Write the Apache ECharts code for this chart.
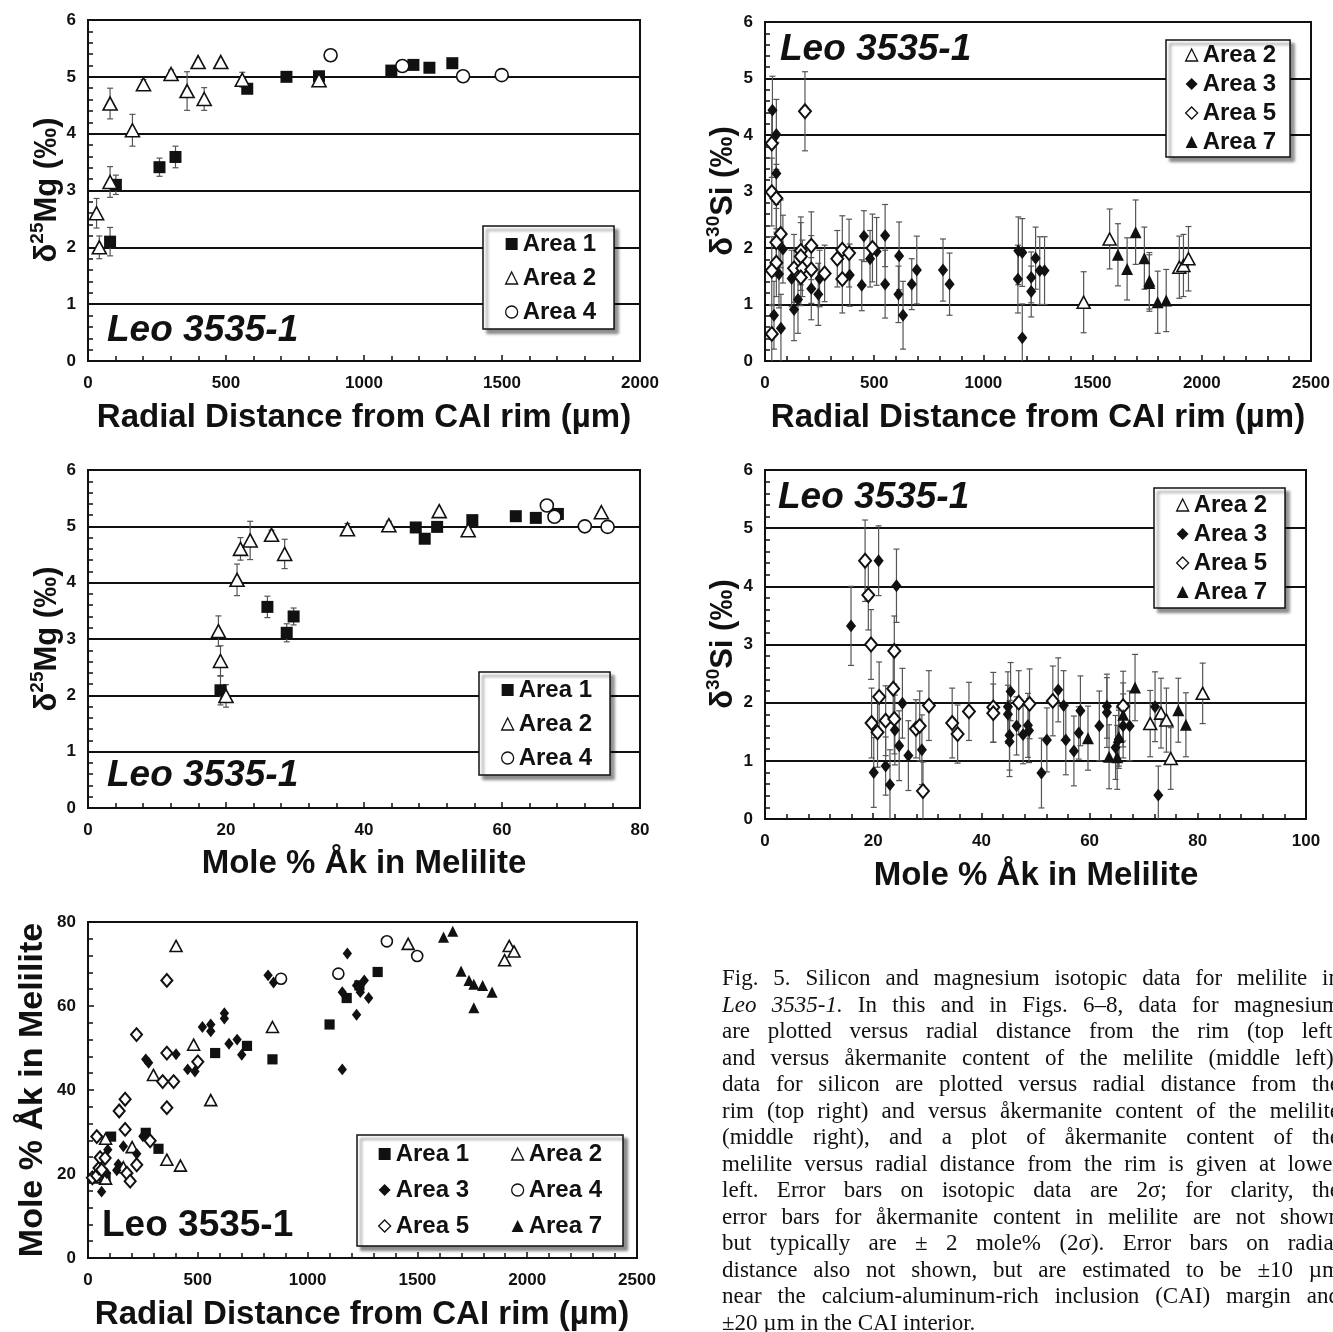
<!DOCTYPE html>
<html><head><meta charset="utf-8">
<script src="https://cdn.jsdelivr.net/npm/echarts@6/dist/echarts.min.js"></script>
<style>html,body{margin:0;padding:0;background:#fff}#c{width:1333px;height:1332px}</style>
</head><body><div id="c"></div><script>
// ---------------- DATA ----------------
// Panel 1: δ25Mg (‰) vs radial distance (µm)  [x, y, 2σ]
const P1_AREA1 = [[80,2.10,0.25],[101,3.10,0.17],[259,3.41,0.16],[317,3.59,0.19],[577,4.79,0],[719,5.00,0],[837,5.01,0],[1099,5.11,0],[1179,5.21,0],[1237,5.16,0],[1320,5.24,0]];
const P1_AREA2 = [[31,2.60,0.26],[41,2.00,0.20],[80,3.15,0.27],[80,4.53,0.27],[161,4.06,0.28],[201,4.87,0.08],[301,5.05,0.07],[359,4.75,0.34],[399,5.26,0],[421,4.61,0.20],[481,5.26,0],[559,4.95,0.13],[837,4.94,0]];
const P1_AREA4 = [[879,5.38,0],[1139,5.19,0],[1359,5.01,0],[1499,5.03,0]];

// Panel 2: δ30Si (‰) vs radial distance (µm)  [x, y, 2σ]
const P2_AREA2 = [[1459,1.04,0.54],[1578,2.16,0.53],[1897,1.66,0.55],[1916,1.69,0.55],[1939,1.81,0.57]];
const P2_AREA3 = [[34,4.44,0.60],[52,4.01,0.62],[52,3.32,0.55],[82,1.98,0.60],[64,1.54,0.60],[122,1.46,0.50],[151,1.09,0.60],[133,0.91,0.55],[41,0.81,0.60],[73,0.58,0.60],[212,1.28,0.55],[244,1.18,0.55],[250,1.46,0.50],[388,1.52,0.55],[443,1.34,0.45],[453,2.21,0.45],[481,1.81,0.50],[511,1.94,0.60],[550,2.22,0.55],[550,1.36,0.60],[614,1.86,0.60],[611,1.18,0.50],[632,0.81,0.60],[672,1.36,0.45],[695,1.61,0.60],[815,1.61,0.55],[845,1.36,0.55],[1160,1.95,0.60],[1178,1.92,0.60],[1158,1.45,0.60],[1219,1.48,0.45],[1219,1.23,0.45],[1239,1.82,0.55],[1258,1.60,0.60],[1280,1.60,0.60],[1178,0.41,0.60]];
const P2_AREA5 = [[183,4.42,0.70],[31,3.85,0.60],[31,2.99,0.60],[52,2.88,0.60],[72,2.25,0.60],[52,2.10,0.60],[52,1.74,0.60],[31,1.60,0.60],[31,0.48,0.50],[133,1.64,0.60],[164,1.95,0.60],[164,1.85,0.60],[171,1.64,0.50],[164,1.48,0.50],[212,2.04,0.60],[212,1.62,0.60],[273,1.55,0.50],[331,1.81,0.50],[354,1.97,0.60],[354,1.45,0.60],[385,1.91,0.60],[492,2.00,0.60]];
const P2_AREA7 = [[1616,1.88,0.55],[1658,1.63,0.55],[1697,2.28,0.57],[1737,1.82,0.55],[1760,1.42,0.50],[1760,1.38,0.50],[1798,1.04,0.55],[1837,1.07,0.55]];

// Panel 3: δ25Mg (‰) vs mole % Åk  [x, y, 2σ]
const P3_AREA1 = [[19.2,2.09,0.26],[26.0,3.57,0.19],[28.8,3.11,0.16],[29.8,3.40,0.15],[47.5,4.98,0],[48.8,4.78,0],[50.6,4.99,0],[55.7,5.11,0.05],[62.0,5.18,0.05],[64.9,5.15,0.05],[68.1,5.22,0]];
const P3_AREA2 = [[18.9,3.14,0.27],[19.2,2.61,0.27],[20.0,1.99,0.20],[21.6,4.05,0.28],[22.1,4.60,0.20],[23.5,4.75,0.34],[26.6,4.85,0.08],[28.5,4.51,0.26],[37.6,4.95,0.10],[43.6,5.02,0.07],[50.9,5.27,0],[55.1,4.93,0],[74.4,5.25,0]];
const P3_AREA4 = [[66.5,5.37,0],[67.6,5.17,0],[72.0,5.00,0],[75.3,4.99,0]];

// Panel 4: δ30Si (‰) vs mole % Åk  [x, y, 2σ]
const P4_AREA2 = [[71.2,1.64,0.57],[73.2,1.82,0.60],[74.2,1.70,0.55],[75.0,1.04,0.53],[80.9,2.16,0.52]];
const P4_AREA3 = [[15.9,3.32,0.68],[21.0,4.44,0.60],[24.3,4.01,0.63],[20.1,0.80,0.60],[22.3,0.91,0.50],[23.1,0.59,0.60],[24.0,1.53,0.60],[24.8,1.26,0.60],[25.4,1.99,0.60],[26.5,1.09,0.60],[29.0,1.19,0.60],[45.4,2.19,0.50],[44.9,1.93,0.60],[44.9,1.80,0.50],[45.2,1.44,0.60],[45.2,1.33,0.60],[46.5,1.60,0.50],[47.7,1.45,0.50],[48.6,1.61,0.55],[48.8,1.52,0.55],[51.1,0.79,0.60],[52.1,1.36,0.55],[54.2,2.22,0.55],[55.2,1.95,0.60],[55.6,1.36,0.60],[57.1,1.17,0.60],[58.0,1.48,0.45],[58.3,1.86,0.60],[61.8,1.60,0.60],[63.2,1.94,0.55],[63.2,1.83,0.60],[64.8,1.23,0.55],[65.4,1.37,0.50],[66.2,1.60,0.55],[67.4,1.60,0.60],[72.1,1.93,0.60],[72.7,0.41,0.50]];
const P4_AREA5 = [[18.5,4.44,0.70],[19.1,3.85,0.60],[19.6,3.00,0.60],[23.9,2.89,0.60],[23.7,2.24,0.60],[21.1,2.10,0.60],[19.7,1.65,0.60],[20.8,1.49,0.60],[22.3,1.69,0.60],[23.9,1.72,0.60],[27.9,1.55,0.50],[28.6,1.60,0.60],[29.2,0.48,0.50],[30.3,1.95,0.60],[34.6,1.65,0.60],[35.6,1.46,0.50],[37.7,1.85,0.50],[42.2,1.92,0.60],[42.2,1.82,0.50],[46.9,2.00,0.55],[48.9,1.98,0.60],[53.2,2.03,0.60],[66.2,1.94,0.60]];
const P4_AREA7 = [[59.7,1.39,0.55],[63.6,1.07,0.55],[65.1,1.06,0.55],[66.2,1.79,0.55],[65.4,1.41,0.50],[68.4,2.26,0.57],[76.4,1.87,0.55],[77.8,1.62,0.55]];

// Panel 5: mole % Åk vs radial distance (µm)  [x, y]
const P5_AREA1 = [[80,19.2],[105,28.9],[263,29.8],[321,26.0],[579,48.8],[724,50.5],[840,47.3],[1100,55.6],[1178,61.9],[1236,64.9],[1319,68.1]];
const P5_AREA2 = [[31,19.2],[41,20.0],[80,18.9],[80,28.4],[161,21.6],[201,26.4],[298,43.6],[359,23.4],[401,74.3],[421,22.0],[481,50.8],[559,37.6],[840,55.0],[1458,74.8],[1897,70.9],[1918,74.3],[1940,73.0]];
const P5_AREA3 = [[62,15.8],[85,20.2],[90,25.8],[131,20.9],[138,22.3],[161,26.6],[222,24.8],[250,29.0],[263,47.3],[276,46.5],[401,48.5],[454,44.9],[487,44.4],[521,55.0],[559,55.6],[559,54.0],[621,58.3],[621,57.0],[642,51.0],[679,52.0],[700,48.4],[820,67.3],[845,65.6],[1158,44.9],[1158,63.3],[1181,72.5],[1223,57.9],[1223,64.9],[1240,63.3],[1258,66.1],[1278,61.9]];
const P5_AREA4 = [[879,66.5],[1140,67.7],[1361,75.4],[1499,71.9]];
const P5_AREA5 = [[20,19.1],[40,28.9],[40,19.6],[50,21.4],[55,23.9],[62,21.0],[78,23.8],[142,35.0],[169,37.8],[169,30.6],[177,20.2],[192,18.3],[221,53.2],[222,22.2],[283,27.9],[340,42.0],[359,66.1],[359,48.8],[359,35.8],[390,42.0],[500,46.7]];
const P5_AREA7 = [[1619,76.4],[1661,77.8],[1699,68.3],[1735,66.1],[1757,65.2],[1797,64.9],[1840,63.3],[1757,59.6]];

// Axis ranges [min, max, labelled step]
const X_DIST_MG = [0, 2000, 500];
const X_DIST_SI = [0, 2500, 500];
const X_AK_MG = [0, 80, 20];
const X_AK_SI = [0, 100, 20];
const Y_DELTA = [0, 6, 1];
const X_DIST_AK = [0, 2500, 500];
const Y_AK = [0, 80, 20];

// Texts
const TITLE_DIST = 'Radial Distance from CAI rim (µm)';
const TITLE_AK = 'Mole % Åk in Melilite';
const SAMPLE = 'Leo 3535-1';
const CAPTION = [
 'Fig. 5. Silicon and magnesium isotopic data for melilite in',
 '_Leo _3535-1. In this and in Figs. 6–8, data for magnesium',
 'are plotted versus radial distance from the rim (top left)',
 'and versus åkermanite content of the melilite (middle left);',
 'data for silicon are plotted versus radial distance from the',
 'rim (top right) and versus åkermanite content of the melilite',
 '(middle right), and a plot of åkermanite content of the',
 'melilite versus radial distance from the rim is given at lower',
 'left. Error bars on isotopic data are 2σ; for clarity, the',
 'error bars for åkermanite content in melilite are not shown',
 'but typically are ± 2 mole% (2σ). Error bars on radial',
 'distance also not shown, but are estimated to be ±10 µm',
 'near the calcium-aluminum-rich inclusion (CAI) margin and',
 '±20 µm in the CAI interior.'
];

// ---------------- STYLE ----------------
const FONT = '"Liberation Sans", Arial, sans-serif';
const INK = '#111';
const MK = {
  'Area 1': {symbol:'rect', size:12, style:{color:INK}},
  'Area 2': {symbol:'triangle', size:[14,13], style:{color:'#fff', borderColor:INK, borderWidth:1.6}},
  'Area 3': {symbol:'diamond', size:[11,14], style:{color:INK}},
  'Area 4': {symbol:'circle', size:13, style:{color:'#fff', borderColor:INK, borderWidth:1.6}},
  'Area 5': {symbol:'diamond', size:[13,15], style:{color:'#fff', borderColor:INK, borderWidth:2}},
  'Area 7': {symbol:'triangle', size:[13,13], style:{color:INK}}
};

function scaleSize(s, k){ return Array.isArray(s) ? s.map(v=>v*k) : s*k; }
const plainNum = v => String(v);

function xAxis(gi, r){
  return {type:'value', gridIndex:gi, min:r[0], max:r[1], interval:r[2],
    axisLine:{show:true, onZero:false, lineStyle:{color:INK, width:2}},
    axisTick:{show:true, inside:true, length:6, lineStyle:{color:INK, width:1.5}},
    minorTick:{show:true, splitNumber:5, length:5, lineStyle:{color:INK, width:1.5}},
    axisLabel:{show:true, margin:14, formatter:plainNum, color:INK, fontFamily:FONT, fontWeight:'bold', fontSize:17, showMinLabel:true, showMaxLabel:true, hideOverlap:false},
    splitLine:{show:false}, minorSplitLine:{show:false}};
}
function yAxis(gi, r, grid){
  return {type:'value', gridIndex:gi, min:r[0], max:r[1], interval:r[2],
    axisLine:{show:true, onZero:false, lineStyle:{color:INK, width:2}},
    axisTick:{show:true, inside:true, length:6, lineStyle:{color:INK, width:1.5}},
    minorTick:{show:true, splitNumber:5, length:5, lineStyle:{color:INK, width:1.5}},
    axisLabel:{show:true, margin:12, formatter:plainNum, color:INK, fontFamily:FONT, fontWeight:'bold', fontSize:17, showMinLabel:true, showMaxLabel:true, hideOverlap:false},
    splitLine:{show:grid, lineStyle:{color:INK, width:1.8}}, minorSplitLine:{show:false}};
}
function grid(left, top, width, height){
  return {left, top, width, height, show:true, borderColor:INK, borderWidth:2, backgroundColor:'transparent', containLabel:false, outerBoundsMode:'none'};
}

function errSeries(gi, data){
  return {type:'custom', name:'err'+gi, xAxisIndex:gi, yAxisIndex:gi, data, z:1, silent:true, clip:true,
    encode:{x:0, y:1},
    renderItem(params, api){
      const x = api.value(0), y = api.value(1), e = api.value(2);
      if (!(e > 0)) return null;
      const hi = api.coord([x, y+e]), lo = api.coord([x, y-e]);
      const s = {stroke:'#555', lineWidth:1.2};
      const c = 3;
      return {type:'group', children:[
        {type:'line', shape:{x1:hi[0], y1:hi[1], x2:lo[0], y2:lo[1]}, style:s},
        {type:'line', shape:{x1:hi[0]-c, y1:hi[1], x2:hi[0]+c, y2:hi[1]}, style:s},
        {type:'line', shape:{x1:lo[0]-c, y1:lo[1], x2:lo[0]+c, y2:lo[1]}, style:s}
      ]};
    }};
}
function ptSeries(gi, name, data, k){
  const m = MK[name];
  return {type:'scatter', name, xAxisIndex:gi, yAxisIndex:gi, data: data.map(d=>[d[0], d[1]]), z:3,
    symbol:m.symbol, symbolSize:scaleSize(m.size, k), itemStyle:Object.assign({opacity:1}, m.style),
    emphasis:{disabled:true}, silent:true};
}

const PANELS = [
  {gi:0, k:1, sets:[['Area 1',P1_AREA1],['Area 2',P1_AREA2],['Area 4',P1_AREA4]], err:true},
  {gi:1, k:0.92, sets:[['Area 2',P2_AREA2],['Area 3',P2_AREA3],['Area 5',P2_AREA5],['Area 7',P2_AREA7]], err:true},
  {gi:2, k:1, sets:[['Area 1',P3_AREA1],['Area 2',P3_AREA2],['Area 4',P3_AREA4]], err:true},
  {gi:3, k:0.92, sets:[['Area 2',P4_AREA2],['Area 3',P4_AREA3],['Area 5',P4_AREA5],['Area 7',P4_AREA7]], err:true},
  {gi:4, k:0.85, sets:[['Area 1',P5_AREA1],['Area 2',P5_AREA2],['Area 3',P5_AREA3],['Area 4',P5_AREA4],['Area 5',P5_AREA5],['Area 7',P5_AREA7]], err:false}
];

const series = [];
PANELS.forEach(p => {
  if (p.err) p.sets.forEach(s => series.push(errSeries(p.gi, s[1])));
  p.sets.forEach(s => series.push(ptSeries(p.gi, s[0], s[1], p.k)));
});

function legend(left, top, names, padding, gap, boxed){
  const o = {show:true, orient:'vertical', left, top, padding, itemGap:gap, itemWidth:12, itemHeight:12, selectedMode:false,
    textStyle:{color:INK, fontFamily:FONT, fontWeight:'bold', fontSize:24, lineHeight:24},
    data: names.map(n => ({name:n, icon:MK[n].symbol, itemStyle:Object.assign({}, MK[n].style, {borderWidth:MK[n].style.borderWidth?1.3:0})}))};
  if (boxed) Object.assign(o, {backgroundColor:'#fff', borderColor:INK, borderWidth:1.5, borderRadius:0,
    shadowColor:'rgba(0,0,0,0.45)', shadowBlur:3, shadowOffsetX:4, shadowOffsetY:4});
  else Object.assign(o, {backgroundColor:'transparent', borderWidth:0});
  return o;
}

// ---------------- GRAPHIC TEXT ----------------
const graphics = [];
function txt(x, y, text, font, align, rot){
  graphics.push({type:'text', x, y, rotation:rot||0, z:5, silent:true,
    style:{text, font, fill:INK, textAlign:align||'center', textVerticalAlign:'middle'}});
}
function deltaTitle(x, y, mass, el){
  graphics.push({type:'text', x, y, rotation:Math.PI/2, z:5, silent:true,
    style:{text:'{a|δ}{b|'+mass+'}{a|'+el+' (‰)}', fill:INK, textAlign:'center', textVerticalAlign:'middle',
      rich:{a:{fontFamily:FONT, fontWeight:'bold', fontSize:31, fill:INK},
            b:{fontFamily:FONT, fontWeight:'bold', fontSize:19, fill:INK, padding:[0,0,18,0]}}}});
}
const TB = 'bold 33px ' + FONT;
txt(364, 418, TITLE_DIST, TB);
txt(1038, 418, TITLE_DIST, TB);
txt(364, 864, TITLE_AK, TB);
txt(1036, 876, TITLE_AK, TB);
txt(362, 1315, TITLE_DIST, TB);
txt(33, 1090, TITLE_AK, 'bold 34px ' + FONT, 'center', Math.PI/2);
deltaTitle(47, 190, '25', 'Mg');
deltaTitle(723, 191, '30', 'Si');
deltaTitle(47, 639, '25', 'Mg');
deltaTitle(723, 644, '30', 'Si');
const LI = 'italic bold 37px ' + FONT;
txt(107, 331, SAMPLE, LI, 'left');
txt(780, 50, SAMPLE, LI, 'left');
txt(107, 776, SAMPLE, LI, 'left');
txt(778, 498, SAMPLE, LI, 'left');
txt(102, 1226, SAMPLE, 'bold 37px ' + FONT, 'left');

// legend box for bottom panel
graphics.push({type:'rect', z:3, silent:true, shape:{x:357, y:1135, width:266, height:111},
  style:{fill:'#fff', stroke:INK, lineWidth:1.5, shadowColor:'rgba(0,0,0,0.45)', shadowBlur:3, shadowOffsetX:4, shadowOffsetY:4}});

// caption, justified word by word
const CAP_X = 722, CAP_W = 618, CAP_Y0 = 979, CAP_DY = 26.5, CAP_FS = 23;
const mctx = document.createElement('canvas').getContext('2d');
function capFont(it){ return (it ? 'italic ' : '') + CAP_FS + 'px "Liberation Serif", "Times New Roman", serif'; }
CAPTION.forEach((line, i) => {
  const words = line.split(' ').map(w => ({it: w.startsWith('_'), t: w.replace(/_/g, '')}));
  words.forEach(w => { mctx.font = capFont(w.it); w.w = mctx.measureText(w.t).width; });
  const total = words.reduce((s, w) => s + w.w, 0);
  mctx.font = capFont(false);
  const last = i === CAPTION.length - 1;
  const gap = last ? mctx.measureText(' ').width : (CAP_W - total) / (words.length - 1);
  let x = CAP_X;
  words.forEach(w => {
    graphics.push({type:'text', x, y: CAP_Y0 + i*CAP_DY, z:5, silent:true,
      style:{text:w.t, font:capFont(w.it), fill:INK, textAlign:'left', textVerticalAlign:'middle'}});
    x += w.w + gap;
  });
});

const option = {
  animation:false,
  backgroundColor:'#fff',
  grid:[grid(88,20,552,341), grid(765,22,546,339), grid(88,470,552,338), grid(765,470,541,349), grid(88,922,549,336)],
  xAxis:[xAxis(0,X_DIST_MG), xAxis(1,X_DIST_SI), xAxis(2,X_AK_MG), xAxis(3,X_AK_SI), xAxis(4,X_DIST_AK)],
  yAxis:[yAxis(0,Y_DELTA,true), yAxis(1,Y_DELTA,true), yAxis(2,Y_DELTA,true), yAxis(3,Y_DELTA,true), yAxis(4,Y_AK,false)],
  legend:[
    legend(483, 226, ['Area 1','Area 2','Area 4'], [6,18,5,22], 10, true),
    legend(1166, 40, ['Area 2','Area 3','Area 5','Area 7'], [3,14,3,19], 5, true),
    legend(479, 672, ['Area 1','Area 2','Area 4'], [6,18,5,22], 10, true),
    legend(1154, 488, ['Area 2','Area 3','Area 5','Area 7'], [5,18,4,22], 5, true),
    legend(378, 1142, ['Area 1','Area 3','Area 5'], 0, 12, false),
    legend(511, 1142, ['Area 2','Area 4','Area 7'], 0, 12, false)
  ],
  graphic:{elements:graphics},
  series
};
const chart = echarts.init(document.getElementById('c'), null, {renderer:'canvas', width:1333, height:1332});
chart.setOption(option);
</script></body></html>
